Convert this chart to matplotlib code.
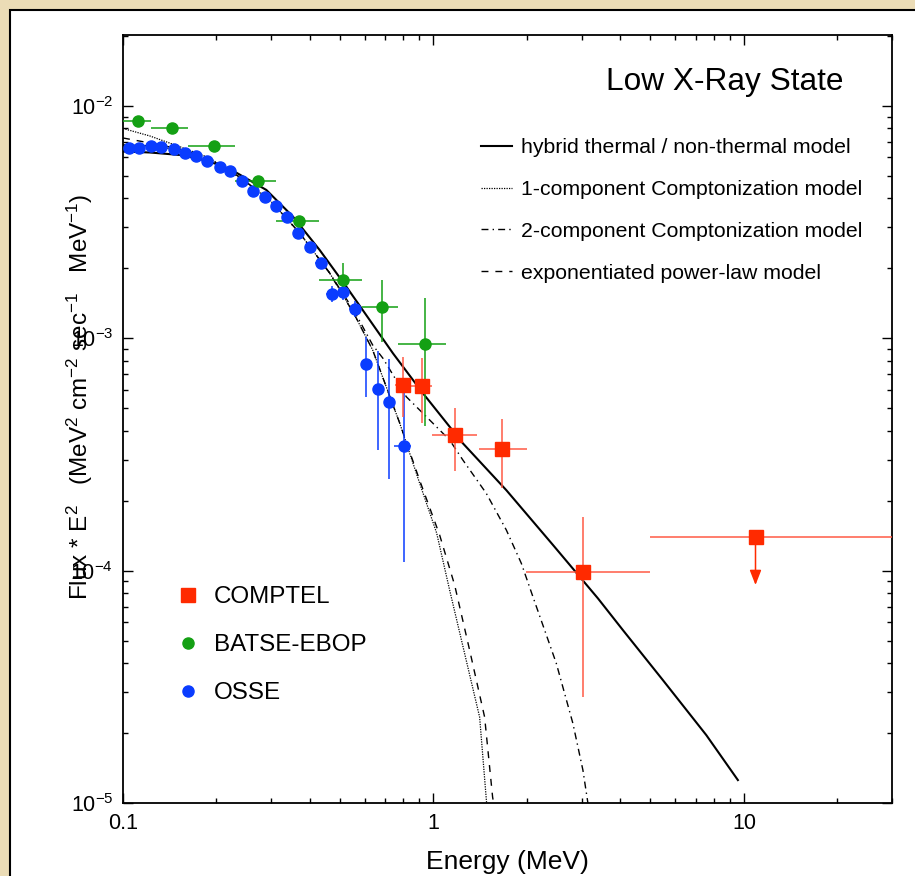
import matplotlib
matplotlib.use("Agg")
import matplotlib.pyplot as plt
from matplotlib.lines import Line2D
from matplotlib.patches import Rectangle
import numpy as np

plt.rcParams['font.family'] = ['Liberation Sans', 'DejaVu Sans']
plt.rcParams['mathtext.fontset'] = 'custom'
plt.rcParams['mathtext.rm'] = 'Liberation Sans'
plt.rcParams['mathtext.it'] = 'Liberation Sans:italic'
plt.rcParams['mathtext.bf'] = 'Liberation Sans:bold'

# OSSE (MeV, MeV^2 cm^-2 s^-1 MeV^-1)
osse_e = [0.1043, 0.1126, 0.1231, 0.1330, 0.1464, 0.1584, 0.1723, 0.1864, 0.2048, 0.2218,
          0.2417, 0.2617, 0.2866, 0.3103, 0.3384, 0.3672, 0.3993, 0.4333, 0.4725, 0.5127,
          0.5587, 0.6047, 0.6646, 0.7191, 0.8017]
osse_f = [0.00661, 0.00661, 0.00673, 0.00664, 0.00653, 0.00630, 0.00611, 0.00581, 0.00545, 0.00525,
          0.00477, 0.00432, 0.00406, 0.00371, 0.00334, 0.00283, 0.00248, 0.00210, 0.00155, 0.00158,
          0.00134, 0.000777, 0.000605, 0.000530, 0.000343]
osse_f_lo = osse_f[:18] + [0.00143, 0.00146, 0.00124, 0.000559, 0.000330, 0.000248, 0.000109]
osse_f_hi = osse_f[:18] + [0.00168, 0.00171, 0.00145, 0.001013, 0.000882, 0.000814, 0.000617]
osse_e_lo = osse_e[:17] + [0.415, 0.452, 0.491, 0.535, 0.587, 0.650, 0.700, 0.744]
osse_e_hi = osse_e[:17] + [0.452, 0.494, 0.536, 0.584, 0.633, 0.680, 0.740, 0.845]

# BATSE-EBOP
batse_e = [0.1118, 0.1435, 0.1960, 0.2722, 0.3681, 0.5127, 0.6826, 0.9369]
batse_f = [0.00864, 0.00807, 0.00671, 0.00477, 0.00320, 0.00179, 0.00137, 0.000948]
batse_e_lo = [0.0988, 0.1228, 0.1620, 0.2289, 0.3119, 0.4268, 0.5902, 0.7687]
batse_e_hi = [0.1228, 0.1620, 0.2289, 0.3119, 0.4268, 0.5902, 0.7687, 1.1004]
batse_f_lo = [0.00864, 0.00807, 0.00671, 0.00477, 0.00320, 0.00152, 0.000967, 0.000421]
batse_f_hi = [0.00864, 0.00807, 0.00671, 0.00477, 0.00320, 0.00211, 0.00179, 0.00149]

# COMPTEL
comptel_e = [0.7976, 0.9183, 1.1728, 1.6624, 3.0303]
comptel_f = [0.000629, 0.000623, 0.000384, 0.000334, 9.86e-5]
comptel_e_lo = [0.75, 0.84, 0.99, 1.40, 1.98]
comptel_e_hi = [0.84, 0.99, 1.38, 2.00, 4.97]
comptel_f_lo = [0.000458, 0.000433, 0.000268, 0.000226, 2.86e-5]
comptel_f_hi = [0.000833, 0.000820, 0.000500, 0.000449, 0.000171]
# upper limit bin
ul_e, ul_f, ul_tip = 10.9, 1.39e-4, 8.67e-5
ul_e_lo, ul_e_hi = 5.0, 30.0

# model curves
hyb_e = [0.1000, 0.1219, 0.1523, 0.1766, 0.2048, 0.2319, 0.2896, 0.3528, 0.4300, 0.5243, 0.6231,
         0.7405, 0.9251, 1.2445, 1.7170, 2.4265, 3.3867, 4.0757, 5.4838, 7.5666, 9.5656]
hyb_f = [0.006369, 0.006306, 0.006153, 0.005914, 0.005572, 0.005161, 0.004349, 0.003339, 0.002399,
         0.001667, 0.001199, 0.000862, 0.000580, 0.000353, 0.000222, 0.000129, 7.60e-5, 5.55e-5,
         3.38e-5, 1.96e-5, 1.255e-5]
one_e = [0.1000, 0.1219, 0.1523, 0.1902, 0.2376, 0.2968, 0.3707, 0.4631, 0.5574, 0.6370, 0.7783,
         0.9026, 1.0240, 1.1276, 1.2602, 1.4085, 1.4834]
one_f = [0.00800, 0.00743, 0.00668, 0.00597, 0.00490, 0.00394, 0.00284, 0.00191, 0.00126, 0.000891,
         0.000432, 0.000238, 0.0001452, 8.25e-5, 4.4e-5, 2.343e-5, 1.0e-5]
two_e = [0.1000, 0.1219, 0.1523, 0.1902, 0.2376, 0.2968, 0.3707, 0.4631, 0.5574, 0.6370, 0.6877,
         0.8180, 0.9486, 1.1276, 1.2445, 1.4803, 1.7170, 1.9193, 2.0914, 2.4876, 2.8134, 3.0303, 3.1444]
two_f = [0.00680, 0.00673, 0.00647, 0.00591, 0.00495, 0.00394, 0.00284, 0.00191, 0.00130, 0.000936,
         0.000820, 0.000560, 0.000460, 0.000365, 0.000299, 0.000215, 0.0001496, 0.0001075, 7.72e-5,
         3.99e-5, 2.20e-5, 1.385e-5, 1.0e-5]
exp_e = [0.1000, 0.1219, 0.1523, 0.1902, 0.2376, 0.2968, 0.3707, 0.4631, 0.5574, 0.6370, 0.7783,
         0.9026, 1.0471, 1.1703, 1.3078, 1.4617, 1.5510, 1.5625]
exp_f = [0.00728, 0.00693, 0.00653, 0.00597, 0.00490, 0.00394, 0.00284, 0.00191, 0.00126, 0.000891,
         0.000432, 0.000245, 0.0001423, 8.67e-5, 4.55e-5, 2.343e-5, 1.06e-5, 1.0e-5]

model_labels = ["hybrid thermal / non-thermal model", "1-component Comptonization model",
                "2-component Comptonization model", "exponentiated power-law model"]

RED, RED_BAR = '#ff2a00', '#ff5a45'
GREEN = '#14a014'
BLUE = '#0a3cff'


def err(v, lo, hi):
    v, lo, hi = np.array(v), np.array(lo), np.array(hi)
    return [v - lo, hi - v]


fig = plt.figure(figsize=(9.15, 8.76), dpi=100, facecolor='#ebdcb6')
fig.patches.append(Rectangle((10 / 915, -0.1), 1.2, 1 - 10 / 876 + 0.1, transform=fig.transFigure,
                             facecolor='white', edgecolor='black', lw=1.5, zorder=-10))
ax = fig.add_axes([123 / 915, 1 - 803 / 876, 769 / 915, 768 / 876])
ax.set_facecolor('white')
ax.set_xscale('log')
ax.set_yscale('log')

# model curves
ax.plot(hyb_e, hyb_f, color='black', lw=1.5, ls='-')
ax.plot(one_e, one_f, color='black', lw=0.9, ls=(0, (1, 1)))
ax.plot(two_e, two_f, color='black', lw=1.0, ls=(0, (5, 3, 1, 3)))
ax.plot(exp_e, exp_f, color='black', lw=1.0, ls=(0, (5, 5)))

# data
ax.errorbar(osse_e, osse_f, xerr=err(osse_e, osse_e_lo, osse_e_hi),
            yerr=err(osse_f, osse_f_lo, osse_f_hi), fmt='o', ms=8, color=BLUE, ecolor=BLUE,
            elinewidth=1.1, capsize=0, zorder=4)
ax.errorbar(batse_e, batse_f, xerr=err(batse_e, batse_e_lo, batse_e_hi),
            yerr=err(batse_f, batse_f_lo, batse_f_hi), fmt='o', ms=8, color=GREEN, ecolor=GREEN,
            elinewidth=1.1, capsize=0, zorder=4)
ax.errorbar(comptel_e, comptel_f, xerr=err(comptel_e, comptel_e_lo, comptel_e_hi),
            yerr=err(comptel_f, comptel_f_lo, comptel_f_hi), fmt='s', ms=9.5, color=RED,
            ecolor=RED_BAR, elinewidth=1.1, capsize=0, zorder=5)
ax.errorbar([ul_e], [ul_f], xerr=[[ul_e - ul_e_lo], [ul_e_hi - ul_e]], fmt='s', ms=9.5,
            color=RED, ecolor=RED_BAR, elinewidth=1.1, capsize=0, zorder=5)
ax.annotate('', xy=(ul_e, ul_tip), xytext=(ul_e, ul_f),
            arrowprops=dict(arrowstyle='-|>,head_length=0.9,head_width=0.35', color=RED, lw=1.1,
                            shrinkA=0, shrinkB=0))

ax.set_xlim(0.1, 30)
ax.set_ylim(1e-5, 2.02e-2)
ax.set_xticks([0.1, 1, 10])
ax.set_xticklabels(['0.1', '1', '10'])
ax.set_yticks([1e-5, 1e-4, 1e-3, 1e-2])
ax.set_yticklabels(['$10^{-5}$', '$10^{-4}$', '$10^{-3}$', '$10^{-2}$'])
ax.tick_params(which='both', direction='in', top=True, right=True, labelsize=15.5)
ax.tick_params(which='major', length=7, width=1, pad=7)
ax.tick_params(which='minor', length=3.5, width=1)
for s in ax.spines.values():
    s.set_linewidth(1.3)

ax.set_xlabel('Energy (MeV)', fontsize=19, labelpad=12)
fig.text(80 / 915, 1 - 397 / 876,
         'Flux * E$^2$   (MeV$^2$ cm$^{-2}$ sec$^{-1}$   MeV$^{-1}$)',
         rotation=90, ha='center', va='center', fontsize=17.5)

ax.text(0.937, 0.939, 'Low X-Ray State', transform=ax.transAxes, ha='right', va='center',
        fontsize=22.8)

model_handles = [Line2D([], [], color='black', lw=1.5, ls='-'),
                 Line2D([], [], color='black', lw=0.9, ls=(0, (1, 1))),
                 Line2D([], [], color='black', lw=1.0, ls=(0, (5, 3, 1, 3))),
                 Line2D([], [], color='black', lw=1.0, ls=(0, (5, 5)))]
leg1 = ax.legend(model_handles, model_labels, loc='upper left', bbox_to_anchor=(0.4655, 0.8655),
                 frameon=False, fontsize=15.3, handlelength=1.46, handletextpad=0.42,
                 labelspacing=1.07, borderpad=0, borderaxespad=0)
ax.add_artist(leg1)

data_handles = [Line2D([], [], ls='', marker='s', ms=9.5, color=RED),
                Line2D([], [], ls='', marker='o', ms=8, color=GREEN),
                Line2D([], [], ls='', marker='o', ms=8, color=BLUE)]
ax.legend(data_handles, ['COMPTEL', 'BATSE-EBOP', 'OSSE'], loc='upper left',
          bbox_to_anchor=(0.069, 0.2825), frameon=False, fontsize=17.4, handlelength=1.0,
          handletextpad=0.58, labelspacing=1.08, borderpad=0, borderaxespad=0)

fig.savefig('out.png', dpi=100, facecolor=fig.get_facecolor())
